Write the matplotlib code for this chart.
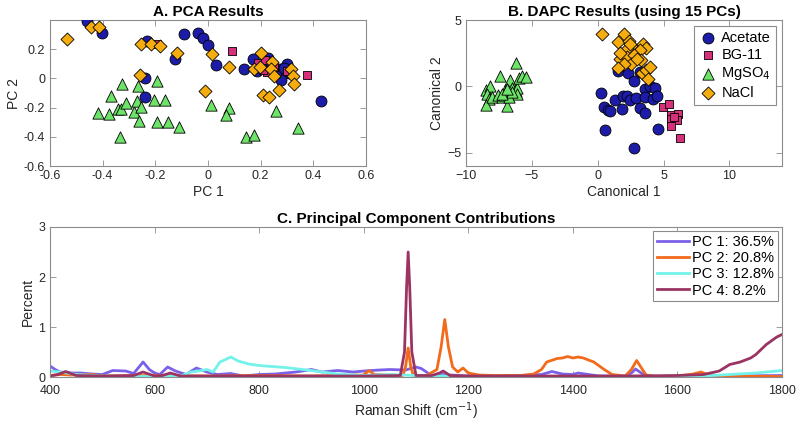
import numpy as np
import matplotlib
matplotlib.use('Agg')
import matplotlib.pyplot as plt

plt.rcParams['font.family'] = ['Liberation Sans', 'DejaVu Sans']

# --- A. PCA scores ---
acetate_pc1 = [-0.458, -0.401, -0.233, -0.125, -0.091, -0.037, -0.018, 0.001, 0.029, 0.138, 0.172, 0.187, 0.228,
               0.274, 0.282, 0.301, 0.308, 0.276, -0.238, -0.238, 0.428, 0.20, 0.24, 0.26, 0.29]
acetate_pc2 = [0.39, 0.314, 0.259, 0.13, 0.302, 0.314, 0.277, 0.227, 0.095, 0.064, 0.132, 0.05, 0.142,
               0.062, 0.048, 0.099, 0.035, -0.011, 0.005, -0.125, -0.152, 0.10, 0.09, 0.04, 0.07]
bg11_pc1 = [-0.192, 0.092, 0.191, 0.218, 0.223, 0.375, 0.25, 0.30, 0.21]
bg11_pc2 = [0.239, 0.186, 0.103, 0.126, 0.042, 0.023, 0.08, 0.05, 0.06]
mgso4_pc1 = [-0.328, -0.37, -0.416, -0.376, -0.341, -0.332, -0.311, -0.281, -0.268, -0.267, -0.256, -0.261, -0.334,
             -0.195, -0.205, -0.162, -0.192, -0.152, -0.109, 0.011, 0.08, 0.067, 0.144, 0.176, 0.257, 0.343]
mgso4_pc2 = [-0.039, -0.118, -0.234, -0.243, -0.211, -0.211, -0.17, -0.227, -0.152, -0.05, -0.198, -0.289, -0.402,
             -0.016, -0.148, -0.145, -0.298, -0.298, -0.334, -0.182, -0.2, -0.25, -0.402, -0.386, -0.22, -0.341]
nacl_pc1 = [-0.534, -0.443, -0.415, -0.253, -0.216, -0.181, -0.118, -0.258, 0.016, 0.08, -0.011, 0.203, 0.243,
            0.175, 0.198, 0.239, 0.251, 0.314, 0.322, 0.328, 0.271, 0.208, 0.23]
nacl_pc2 = [0.268, 0.35, 0.35, 0.238, 0.234, 0.224, 0.172, 0.021, 0.165, 0.076, -0.084, 0.172, 0.115,
            0.062, 0.08, 0.062, 0.019, 0.062, 0.016, -0.038, -0.079, -0.114, -0.13]

# --- B. DAPC canonical scores ---
acetate_c1 = [1.54, 2.3, 2.73, 3.18, 0.28, 1.29, 1.92, 2.22, 2.42, 2.93, 3.61, 3.99, 4.37, 3.56, 4.17, 4.5,
              3.18, 3.61, 1.87, 0.45, 0.76, 0.91, 0.56, 4.55, 2.73]
acetate_c2 = [1.14, 1.04, 0.4, 1.06, -0.48, -1.01, -0.73, -0.76, -1.06, -0.88, -0.23, 0.05, -0.1, -0.81, -0.93, -0.76,
              -1.61, -1.99, -1.72, -1.57, -1.77, -1.89, -3.26, -3.21, -4.62]
bg11_c1 = [4.95, 5.43, 5.56, 6.09, 5.56, 6.01, 5.56, 6.27, 5.8]
bg11_c2 = [-1.57, -1.31, -2.14, -2.07, -2.45, -2.52, -3.0, -3.89, -2.3]
mgso4_c1 = [-8.51, -8.18, -8.38, -8.26, -8.46, -8.0, -7.45, -7.58, -7.25, -6.92, -7.05, -6.67, -6.87,
            -6.54, -6.24, -6.11, -6.16, -6.24, -5.98, -5.73, -5.48, -7.12, -6.74, -6.49, -7.3, -6.9]
mgso4_c2 = [-0.25, 0.0, -0.55, -0.93, -1.44, -0.81, 0.78, -0.68, -0.81, -1.51, -0.3, 0.45, -0.18,
            -0.1, -0.38, -0.1, -0.6, 1.76, 0.63, 0.76, 0.71, -0.68, -0.81, -0.43, -0.55, -0.2]
nacl_c1 = [0.33, 1.97, 1.54, 2.35, 2.55, 2.22, 3.48, 3.67, 3.23, 1.67, 2.22, 2.78, 3.31, 2.53, 2.0, 1.54,
           3.36, 3.69, 3.99, 3.86, 1.72, 2.95, 2.45]
nacl_c2 = [3.94, 3.92, 3.31, 3.41, 3.05, 2.78, 3.16, 2.9, 2.73, 2.1, 2.22, 2.35, 2.02, 1.72, 1.72, 1.42,
           1.01, 1.26, 1.46, 0.58, 2.48, 2.09, 3.22]

# --- C. PC loadings (percent) vs Raman shift ---
pc1_x = [400, 410, 419, 440, 460, 480, 500, 520, 545, 560, 578, 590, 600, 610, 625, 640, 660, 680, 700, 720,
         745, 770, 800, 830, 850, 870, 900, 920, 950, 980, 1000, 1030, 1050, 1080, 1100, 1110, 1120, 1130, 1150, 1200,
         1250, 1300, 1340, 1360, 1380, 1400, 1410, 1430, 1450, 1500, 1512, 1520, 1535, 1550, 1600, 1700, 1800]
pc1_y = [0.22, 0.15, 0.1, 0.08, 0.08, 0.06, 0.05, 0.13, 0.12, 0.07, 0.3, 0.15, 0.08, 0.05, 0.2, 0.12, 0.05, 0.18, 0.1, 0.05,
         0.07, 0.02, 0.05, 0.06, 0.08, 0.1, 0.15, 0.1, 0.13, 0.1, 0.12, 0.14, 0.15, 0.14, 0.2, 0.17, 0.1, 0.02, 0.05, 0.02,
         0.02, 0.03, 0.05, 0.11, 0.06, 0.05, 0.08, 0.05, 0.02, 0.02, 0.08, 0.16, 0.05, 0.01, 0.01, 0.02, 0.03]
pc2_x = [400, 420, 440, 480, 500, 600, 700, 800, 900, 1000, 1010, 1020, 1075, 1080, 1085, 1090, 1095, 1120, 1140, 1148,
         1155, 1162, 1170, 1180, 1190, 1200, 1220, 1250, 1300, 1325, 1340, 1350, 1370, 1380, 1390, 1400, 1410, 1420,
         1440, 1460, 1475, 1500, 1512, 1522, 1530, 1540, 1560, 1600, 1630, 1645, 1660, 1700, 1800]
pc2_y = [0.03, 0.05, 0.04, 0.05, 0.02, 0.03, 0.02, 0.03, 0.02, 0.04, 0.13, 0.05, 0.03, 0.2, 0.58, 0.2, 0.03, 0.03, 0.15, 0.6,
         1.15, 0.6, 0.2, 0.1, 0.18, 0.08, 0.04, 0.03, 0.03, 0.06, 0.15, 0.3, 0.37, 0.38, 0.41, 0.38, 0.4, 0.38,
         0.3, 0.15, 0.05, 0.02, 0.15, 0.33, 0.2, 0.04, 0.01, 0.02, 0.06, 0.1, 0.04, 0.02, 0.01]
pc3_x = [400, 420, 450, 500, 550, 600, 650, 670, 690, 700, 712, 725, 746, 760, 780, 800, 850, 900, 950, 1000,
         1050, 1100, 1200, 1400, 1600, 1650, 1700, 1750, 1800]
pc3_y = [0.12, 0.1, 0.05, 0.02, 0.01, 0.01, 0.02, 0.1, 0.13, 0.15, 0.1, 0.3, 0.4, 0.32, 0.26, 0.23, 0.19, 0.13, 0.06, 0.03,
         0.05, 0.03, 0.01, 0.01, 0.01, 0.02, 0.05, 0.08, 0.13]
pc4_x = [400, 415, 430, 450, 500, 560, 578, 600, 615, 630, 650, 700, 800, 900, 1000, 1070, 1078, 1082, 1085, 1088,
         1092, 1100, 1130, 1145, 1152, 1165, 1200, 1300, 1400, 1500, 1600, 1650, 1680, 1700, 1720, 1740, 1750, 1770, 1790, 1800]
pc4_y = [0.02, 0.05, 0.11, 0.03, 0.02, 0.03, 0.1, 0.02, 0.03, 0.08, 0.02, 0.02, 0.02, 0.02, 0.02, 0.03, 0.5, 1.8, 2.5, 1.8,
         0.5, 0.03, 0.03, 0.08, 0.12, 0.03, 0.02, 0.02, 0.02, 0.02, 0.03, 0.05, 0.12, 0.25, 0.3, 0.38, 0.45, 0.65, 0.8, 0.85]
pc_labels = ['PC 1: 36.5%', 'PC 2: 20.8%', 'PC 3: 12.8%', 'PC 4: 8.2%']

group_names = ['Acetate', 'BG-11', 'MgSO$_4$', 'NaCl']
group_colors = ['#1c1ca8', '#d6307a', '#6ee36a', '#f5ac0f']
group_markers = ['o', 's', '^', 'D']
group_sizes = [62, 38, 66, 44]
line_colors = ['#7b61e8', '#f26a1b', '#72f2ea', '#9b3462']

axis_gray = '#8c8c8c'
text_dark = '#262626'


def style_axes(ax, xpad=3):
  for s in ax.spines.values():
    s.set_color(axis_gray)
    s.set_linewidth(0.8)
  ax.tick_params(direction='in', top=True, right=True, length=4, width=0.6,
                 color=axis_gray, labelcolor=text_dark, labelsize=9)
  ax.tick_params(axis='x', pad=xpad)


fig = plt.figure(figsize=(8, 4.25), dpi=100)
ax_a = fig.add_axes([0.0625, 0.6094, 0.395, 0.3435])
ax_b = fig.add_axes([0.5825, 0.6094, 0.395, 0.3435])
ax_c = fig.add_axes([0.0625, 0.1129, 0.915, 0.353])

pca_x = [acetate_pc1, bg11_pc1, mgso4_pc1, nacl_pc1]
pca_y = [acetate_pc2, bg11_pc2, mgso4_pc2, nacl_pc2]
dapc_x = [acetate_c1, bg11_c1, mgso4_c1, nacl_c1]
dapc_y = [acetate_c2, bg11_c2, mgso4_c2, nacl_c2]

for i in range(4):
  ax_a.scatter(pca_x[i], pca_y[i], s=group_sizes[i], marker=group_markers[i], c=group_colors[i],
               edgecolors='black', linewidths=0.6, zorder=3)
  ax_b.scatter(dapc_x[i], dapc_y[i], s=group_sizes[i], marker=group_markers[i], c=group_colors[i],
               edgecolors='black', linewidths=0.6, zorder=3, label=group_names[i])

ax_a.set_xlim(-0.6, 0.6)
ax_a.set_ylim(-0.6, 0.4)
ax_a.set_xticks([-0.6, -0.4, -0.2, 0, 0.2, 0.4, 0.6])
ax_a.set_xticklabels(['-0.6', '-0.4', '-0.2', '0', '0.2', '0.4', '0.6'])
ax_a.set_yticks([-0.6, -0.4, -0.2, 0, 0.2])
ax_a.set_yticklabels(['-0.6', '-0.4', '-0.2', '0', '0.2'])
ax_a.set_xlabel('PC 1', fontsize=10, color=text_dark, labelpad=2)
ax_a.set_ylabel('PC 2', fontsize=10, color=text_dark, labelpad=2)
ax_a.set_title('A. PCA Results', fontsize=11, fontweight='bold', pad=3)
style_axes(ax_a)

ax_b.set_xlim(-10, 14)
ax_b.set_ylim(-6, 5)
ax_b.set_xticks([-10, -5, 0, 5, 10])
ax_b.set_yticks([-5, 0, 5])
ax_b.set_xlabel('Canonical 1', fontsize=10, color=text_dark, labelpad=2)
ax_b.set_ylabel('Canonical 2', fontsize=10, color=text_dark, labelpad=2)
ax_b.set_title('B. DAPC Results (using 15 PCs)', fontsize=11, fontweight='bold', pad=3)
style_axes(ax_b)
leg = ax_b.legend(loc='upper right', fontsize=10.5, frameon=True, fancybox=False, framealpha=1,
                  borderaxespad=0.4, handletextpad=0.3, labelspacing=0.22, borderpad=0.35,
                  handlelength=1.2, edgecolor=axis_gray)
leg.get_frame().set_linewidth(0.8)

pc_x = [pc1_x, pc2_x, pc3_x, pc4_x]
pc_y = [pc1_y, pc2_y, pc3_y, pc4_y]
for i in range(4):
  ax_c.plot(pc_x[i], pc_y[i], color=line_colors[i], lw=2, label=pc_labels[i])

ax_c.set_xlim(400, 1800)
ax_c.set_ylim(0, 3)
ax_c.set_xticks(np.arange(400, 1801, 200))
ax_c.set_yticks([0, 1, 2, 3])
ax_c.set_xlabel('Raman Shift (cm$^{-1}$)', fontsize=10, color=text_dark, labelpad=2)
ax_c.set_ylabel('Percent', fontsize=10, color=text_dark, labelpad=2)
ax_c.set_title('C. Principal Component Contributions', fontsize=11, fontweight='bold', pad=3)
style_axes(ax_c, xpad=6)
leg2 = ax_c.legend(loc='upper right', fontsize=10.5, frameon=True, fancybox=False, framealpha=1,
                   borderaxespad=0.3, handletextpad=0.2, labelspacing=0.15, borderpad=0.25,
                   handlelength=2.2, edgecolor=axis_gray)
leg2.get_frame().set_linewidth(0.8)

fig.savefig('out.png', dpi=100)
